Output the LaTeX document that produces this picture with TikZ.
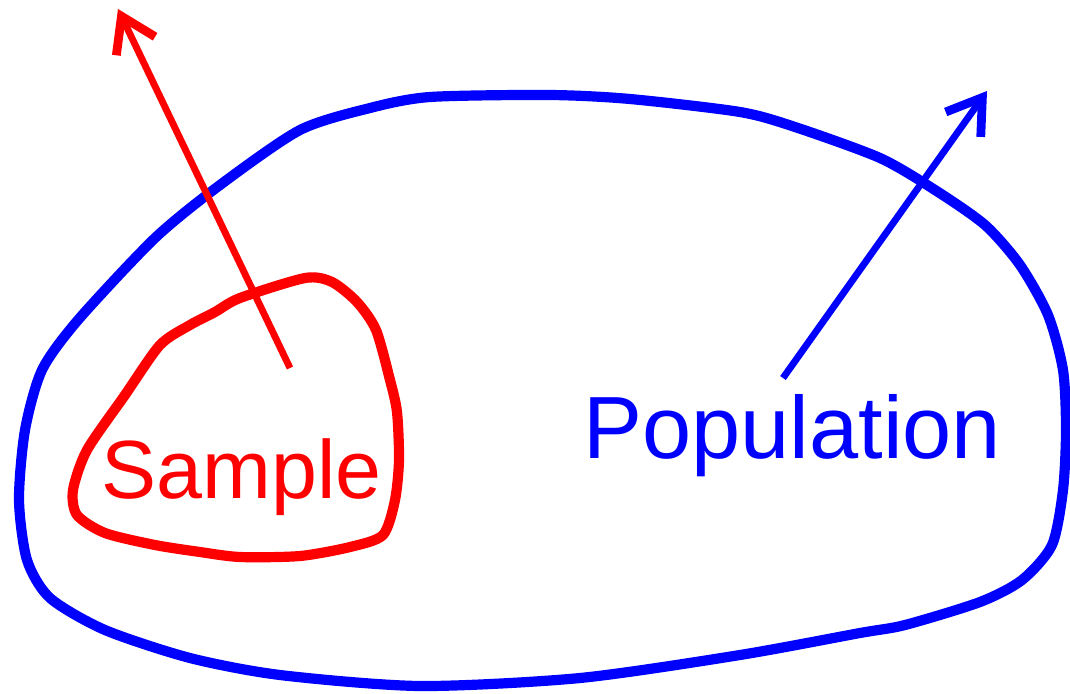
\documentclass[tikz,border=0pt]{standalone}
\usepackage{fontspec}
\setmainfont{Liberation Sans}
\usepackage{tikz}
\usetikzlibrary{arrows.meta}
\definecolor{popc}{HTML}{0000FF}
\definecolor{smpc}{HTML}{FF0000}

\begin{document}
\begin{tikzpicture}[x=0.02cm,y=-0.02cm,
  blob/.style={line width=5.8pt,line join=round,smooth cycle,tension=0.45},
  arr/.style={-{Straight Barb[length=0.66cm,width=0.86cm,line join=miter,line width=5pt 0]},line width=3.9pt},
  lbl/.style={anchor=base west,inner sep=0pt}]
\useasboundingbox (0,0) rectangle (1070,693);
% population
\draw[blob,popc] plot coordinates {(430,97) (550,95) (630,99) (740,112) (795,127) (880,158)
  (935,190) (985,225) (1020,265) (1048,315) (1063,370) (1066,430) (1063,490) (1052,545)
  (1022,580) (980,602) (905,625) (860,633) (740,655) (580,678) (420,686) (280,675) (190,658)
  (105,630) (50,598) (27,560) (19,500) (25,430) (42,370) (78,320) (155,238) (220,185)
  (300,130) (370,108)};
% sample
\draw[blob,smpc] plot coordinates {(305,278) (332,282) (357,302) (376,330) (390,380) (397,412)
  (399,460) (395,500) (383,535) (350,547) (300,556) (240,557) (200,552) (155,545) (105,533)
  (77,515) (73,490) (87,450) (125,395) (160,345) (190,325) (215,312) (240,298)};
\node[lbl,smpc,font=\fontsize{47}{51}\selectfont] (smp) at (101,498) {Sample};
\node[lbl,popc,font=\fontsize{50.3}{55}\selectfont] (pop) at (583,458) {Population};
\coordinate (smp-from) at (290,368);
\coordinate (smp-to) at (118,9);
\coordinate (pop-from) at (783,378);
\coordinate (pop-to) at (987,91);
\draw[arr,smpc] (smp-from) -- (smp-to);
\draw[arr,popc] (pop-from) -- (pop-to);
\end{tikzpicture}
\end{document}
